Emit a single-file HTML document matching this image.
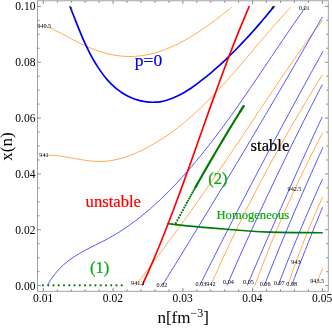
<!DOCTYPE html>
<html><head><meta charset="utf-8"><title>plot</title>
<style>html,body{margin:0;padding:0;background:#fff;}body{width:332px;height:328px;overflow:hidden;position:relative;font-family:"Liberation Serif",serif;}</style>
</head><body>
<svg width="332" height="328" viewBox="0 0 332 328" style="position:absolute;left:0;top:0;will-change:transform">
<rect x="0" y="0" width="332" height="328" fill="#fff"/>
<path d="M43.80,25.18 C44.60,25.51 47.00,26.46 48.58,27.15 C50.17,27.85 51.74,28.59 53.31,29.35 C54.89,30.11 56.45,30.91 58.02,31.72 C59.59,32.52 61.15,33.36 62.71,34.20 C64.28,35.04 65.84,35.89 67.42,36.74 C68.99,37.59 70.56,38.45 72.15,39.30 C73.74,40.14 75.33,40.99 76.93,41.81 C78.54,42.63 80.15,43.44 81.78,44.22 C83.41,45.00 85.05,45.76 86.71,46.48 C88.37,47.21 90.04,47.91 91.73,48.57 C93.41,49.23 95.11,49.86 96.81,50.45 C98.52,51.05 100.23,51.60 101.96,52.12 C103.68,52.64 105.41,53.12 107.15,53.55 C108.88,53.98 110.63,54.38 112.37,54.72 C114.12,55.07 115.87,55.37 117.62,55.62 C119.37,55.87 121.13,56.07 122.88,56.22 C124.64,56.37 126.39,56.46 128.14,56.50 C129.89,56.54 131.64,56.53 133.38,56.46 C135.13,56.39 136.87,56.26 138.61,56.08 C140.34,55.90 142.08,55.66 143.80,55.38 C145.53,55.10 147.25,54.77 148.97,54.39 C150.69,54.02 152.40,53.59 154.10,53.13 C155.81,52.66 157.51,52.15 159.20,51.60 C160.89,51.05 162.57,50.46 164.25,49.83 C165.93,49.20 167.59,48.54 169.25,47.84 C170.91,47.14 172.57,46.41 174.21,45.65 C175.85,44.88 177.48,44.09 179.11,43.27 C180.73,42.44 182.34,41.59 183.95,40.72 C185.55,39.85 187.14,38.94 188.72,38.02 C190.30,37.10 191.87,36.16 193.43,35.20 C194.99,34.24 196.54,33.26 198.07,32.26 C199.60,31.27 201.12,30.25 202.63,29.23 C204.14,28.21 205.63,27.17 207.11,26.13 C208.59,25.08 210.06,24.02 211.51,22.96 C212.96,21.90 214.39,20.84 215.81,19.77 C217.23,18.70 218.64,17.62 220.03,16.55 C221.42,15.47 222.79,14.40 224.14,13.33 C225.50,12.26 226.84,11.19 228.16,10.13 C229.48,9.07 231.42,7.49 232.07,6.96" fill="none" stroke="#ffa64d" stroke-width="0.95"/>
<path d="M43.57,155.17 C44.86,155.17 48.72,155.08 51.32,155.22 C53.91,155.35 56.52,155.64 59.14,155.97 C61.75,156.29 64.38,156.74 67.02,157.18 C69.66,157.61 72.30,158.13 74.95,158.59 C77.59,159.05 80.25,159.55 82.89,159.95 C85.54,160.36 88.19,160.75 90.82,161.00 C93.46,161.26 96.09,161.46 98.71,161.48 C101.33,161.51 103.94,161.40 106.53,161.16 C109.12,160.92 111.70,160.53 114.25,160.03 C116.81,159.54 119.35,158.91 121.87,158.19 C124.39,157.48 126.88,156.64 129.36,155.73 C131.83,154.83 134.28,153.82 136.70,152.75 C139.12,151.69 141.52,150.53 143.89,149.34 C146.25,148.14 148.59,146.88 150.89,145.59 C153.20,144.29 155.47,142.95 157.71,141.57 C159.96,140.19 162.17,138.77 164.35,137.32 C166.54,135.86 168.69,134.36 170.82,132.83 C172.95,131.31 175.05,129.74 177.13,128.14 C179.21,126.54 181.26,124.91 183.29,123.25 C185.32,121.59 187.32,119.90 189.30,118.18 C191.29,116.46 193.25,114.72 195.19,112.95 C197.14,111.17 199.06,109.38 200.96,107.56 C202.87,105.74 204.75,103.89 206.62,102.03 C208.49,100.17 210.35,98.29 212.19,96.39 C214.03,94.49 215.85,92.57 217.66,90.63 C219.47,88.70 221.27,86.75 223.06,84.79 C224.84,82.83 226.62,80.85 228.38,78.87 C230.15,76.89 231.91,74.89 233.65,72.89 C235.40,70.89 237.14,68.87 238.88,66.86 C240.61,64.84 242.34,62.82 244.06,60.80 C245.79,58.78 247.50,56.75 249.22,54.72 C250.94,52.70 252.65,50.67 254.36,48.64 C256.08,46.62 257.79,44.59 259.50,42.58 C261.21,40.56 262.92,38.54 264.64,36.54 C266.35,34.53 268.07,32.53 269.79,30.54 C271.51,28.55 273.24,26.57 274.97,24.60 C276.70,22.64 278.44,20.68 280.18,18.74 C281.93,16.80 283.68,14.87 285.44,12.96 C287.20,11.05 289.87,8.23 290.75,7.29" fill="none" stroke="#ffa64d" stroke-width="0.95"/>
<path d="M135.23,285.90 C136.70,283.97 141.14,278.20 144.08,274.34 C147.01,270.49 149.93,266.64 152.84,262.79 C155.75,258.93 158.64,255.08 161.51,251.23 C164.38,247.38 167.24,243.53 170.08,239.67 C172.92,235.82 175.74,231.97 178.54,228.12 C181.34,224.27 184.12,220.41 186.89,216.56 C189.65,212.71 192.40,208.86 195.13,205.00 C197.86,201.15 200.57,197.30 203.26,193.45 C205.96,189.60 208.63,185.74 211.30,181.89 C213.96,178.04 216.60,174.19 219.24,170.33 C221.87,166.48 224.49,162.63 227.10,158.78 C229.71,154.93 232.30,151.07 234.89,147.22 C237.48,143.37 240.06,139.52 242.63,135.67 C245.21,131.81 247.77,127.96 250.34,124.11 C252.91,120.26 255.47,116.40 258.04,112.55 C260.60,108.70 263.17,104.85 265.75,101.00 C268.32,97.14 270.90,93.29 273.50,89.44 C276.09,85.59 278.69,81.73 281.31,77.88 C283.94,74.03 286.57,70.18 289.23,66.33 C291.89,62.47 294.57,58.62 297.29,54.77 C300.00,50.92 302.74,47.07 305.51,43.21 C308.29,39.36 311.10,35.51 313.96,31.66 C316.81,27.80 321.20,22.03 322.65,20.10" fill="none" stroke="#ffa64d" stroke-width="0.95"/>
<path d="M211.84,283.00 C213.25,279.84 217.41,270.37 220.27,264.05 C223.13,257.74 226.05,251.42 229.02,245.11 C231.99,238.79 235.02,232.48 238.10,226.16 C241.18,219.85 244.32,213.53 247.51,207.22 C250.70,200.90 253.94,194.59 257.24,188.27 C260.54,181.96 263.90,175.64 267.31,169.33 C270.72,163.01 274.18,156.70 277.70,150.38 C281.21,144.07 284.79,137.75 288.41,131.44 C292.04,125.12 295.72,118.81 299.46,112.49 C303.19,106.18 306.99,99.86 310.83,93.55 C314.68,87.23 320.58,77.76 322.53,74.60" fill="none" stroke="#ffa64d" stroke-width="0.95"/>
<path d="M254.91,285.30 C255.78,282.99 258.32,276.06 260.08,271.44 C261.83,266.82 263.62,262.19 265.44,257.57 C267.26,252.95 269.11,248.33 271.00,243.71 C272.89,239.09 274.81,234.47 276.76,229.85 C278.71,225.22 280.69,220.60 282.71,215.98 C284.73,211.36 286.78,206.74 288.86,202.12 C290.95,197.50 293.06,192.88 295.21,188.25 C297.36,183.63 299.54,179.01 301.76,174.39 C303.97,169.77 306.22,165.15 308.50,160.53 C310.78,155.91 313.09,151.28 315.44,146.66 C317.79,142.04 321.39,135.11 322.58,132.80" fill="none" stroke="#ffa64d" stroke-width="0.95"/>
<path d="M288.30,283.90 C288.75,282.58 290.09,278.63 291.01,276.00 C291.93,273.37 292.86,270.73 293.81,268.10 C294.75,265.47 295.71,262.83 296.68,260.20 C297.65,257.57 298.64,254.93 299.64,252.30 C300.64,249.67 301.65,247.03 302.67,244.40 C303.70,241.77 304.74,239.13 305.79,236.50 C306.84,233.87 307.91,231.23 308.99,228.60 C310.07,225.97 311.16,223.33 312.27,220.70 C313.38,218.07 314.50,215.43 315.63,212.80 C316.77,210.17 317.91,207.53 319.08,204.90 C320.24,202.27 322.01,198.32 322.60,197.00" fill="none" stroke="#ffa64d" stroke-width="0.95"/>
<path d="M316.10,284.80 C316.20,284.54 316.50,283.77 316.70,283.25 C316.90,282.74 317.10,282.22 317.30,281.71 C317.50,281.19 317.70,280.68 317.90,280.16 C318.10,279.65 318.30,279.13 318.50,278.62 C318.70,278.10 318.90,277.59 319.10,277.07 C319.30,276.56 319.50,276.04 319.70,275.53 C319.90,275.01 320.10,274.50 320.30,273.98 C320.50,273.47 320.70,272.95 320.90,272.44 C321.10,271.92 321.30,271.41 321.50,270.89 C321.70,270.38 321.90,269.86 322.10,269.35 C322.30,268.83 322.60,268.06 322.70,267.80" fill="none" stroke="#ffa64d" stroke-width="0.95"/>
<path d="M47.78,284.97 C48.34,284.02 49.94,281.07 51.14,279.22 C52.34,277.38 53.62,275.60 54.97,273.89 C56.32,272.19 57.74,270.55 59.22,268.99 C60.71,267.42 62.26,265.93 63.87,264.50 C65.47,263.07 67.15,261.72 68.86,260.42 C70.57,259.13 72.34,257.90 74.14,256.72 C75.94,255.53 77.79,254.41 79.65,253.32 C81.52,252.23 83.42,251.19 85.33,250.17 C87.24,249.15 89.18,248.17 91.11,247.19 C93.04,246.21 94.99,245.27 96.93,244.30 C98.87,243.33 100.81,242.38 102.74,241.39 C104.66,240.40 106.58,239.40 108.48,238.36 C110.37,237.31 112.25,236.24 114.11,235.14 C115.97,234.04 117.81,232.91 119.64,231.75 C121.47,230.59 123.27,229.41 125.07,228.20 C126.86,226.99 128.63,225.75 130.39,224.49 C132.15,223.24 133.89,221.95 135.62,220.65 C137.34,219.35 139.05,218.02 140.74,216.67 C142.44,215.33 144.11,213.96 145.77,212.58 C147.43,211.19 149.08,209.79 150.71,208.37 C152.34,206.95 153.95,205.51 155.55,204.05 C157.15,202.60 158.74,201.13 160.31,199.64 C161.88,198.16 163.44,196.65 164.99,195.14 C166.53,193.62 168.06,192.09 169.58,190.55 C171.10,189.01 172.61,187.45 174.10,185.89 C175.60,184.32 177.08,182.74 178.55,181.15 C180.02,179.56 181.48,177.96 182.93,176.36 C184.38,174.75 185.82,173.13 187.24,171.50 C188.67,169.88 190.09,168.24 191.50,166.60 C192.91,164.96 194.30,163.31 195.69,161.65 C197.08,159.99 198.46,158.33 199.83,156.66 C201.20,154.98 202.56,153.30 203.92,151.62 C205.27,149.93 206.62,148.24 207.95,146.54 C209.29,144.84 210.62,143.13 211.94,141.42 C213.26,139.71 214.58,137.99 215.89,136.27 C217.19,134.55 218.49,132.82 219.79,131.08 C221.08,129.35 222.37,127.61 223.65,125.87 C224.94,124.12 226.21,122.38 227.48,120.62 C228.75,118.87 230.02,117.11 231.28,115.35 C232.54,113.59 233.80,111.83 235.05,110.06 C236.30,108.29 237.54,106.52 238.79,104.74 C240.03,102.97 241.27,101.19 242.50,99.41 C243.74,97.63 244.97,95.85 246.20,94.06 C247.43,92.28 248.65,90.49 249.88,88.70 C251.10,86.91 252.32,85.12 253.54,83.32 C254.76,81.53 255.97,79.74 257.19,77.94 C258.40,76.15 259.61,74.35 260.83,72.55 C262.04,70.76 263.25,68.96 264.46,67.16 C265.67,65.36 266.88,63.56 268.09,61.77 C269.30,59.97 270.51,58.17 271.72,56.37 C272.93,54.58 274.14,52.78 275.35,50.98 C276.56,49.19 277.77,47.39 278.98,45.60 C280.20,43.81 281.41,42.02 282.63,40.23 C283.84,38.44 285.06,36.65 286.28,34.86 C287.50,33.08 288.72,31.29 289.95,29.51 C291.17,27.73 292.40,25.95 293.63,24.18 C294.86,22.40 296.10,20.63 297.34,18.86 C298.57,17.09 299.82,15.33 301.06,13.56 C302.31,11.80 304.19,9.17 304.81,8.29" fill="none" stroke="#4d4dff" stroke-width="0.95"/>
<path d="M162.38,285.30 C164.90,281.23 172.46,269.03 177.47,260.89 C182.48,252.75 187.48,244.62 192.45,236.48 C197.43,228.35 202.39,220.21 207.33,212.07 C212.27,203.94 217.19,195.80 222.09,187.66 C227.00,179.53 231.88,171.39 236.75,163.25 C241.62,155.12 246.47,146.98 251.30,138.85 C256.13,130.71 260.95,122.57 265.74,114.44 C270.54,106.30 275.32,98.16 280.08,90.03 C284.84,81.89 289.58,73.75 294.30,65.62 C299.03,57.48 303.73,49.35 308.42,41.21 C313.11,33.07 320.09,20.87 322.43,16.80" fill="none" stroke="#4d4dff" stroke-width="0.95"/>
<path d="M200.22,284.50 C201.99,280.97 207.27,270.36 210.82,263.29 C214.37,256.22 217.93,249.15 221.52,242.08 C225.11,235.01 228.72,227.94 232.35,220.87 C235.97,213.80 239.62,206.73 243.28,199.66 C246.95,192.59 250.63,185.52 254.34,178.45 C258.04,171.38 261.76,164.32 265.50,157.25 C269.25,150.18 273.01,143.11 276.79,136.04 C280.57,128.97 284.37,121.90 288.19,114.83 C292.01,107.76 295.84,100.69 299.70,93.62 C303.56,86.55 307.43,79.48 311.33,72.41 C315.23,65.34 321.12,54.73 323.07,51.20" fill="none" stroke="#4d4dff" stroke-width="0.95"/>
<path d="M227.05,285.30 C228.38,282.26 232.32,273.14 234.99,267.06 C237.66,260.98 240.35,254.91 243.07,248.83 C245.79,242.75 248.53,236.67 251.29,230.59 C254.06,224.51 256.85,218.43 259.66,212.35 C262.47,206.28 265.31,200.20 268.17,194.12 C271.03,188.04 273.91,181.96 276.82,175.88 C279.73,169.80 282.66,163.72 285.62,157.65 C288.57,151.57 291.55,145.49 294.55,139.41 C297.56,133.33 300.59,127.25 303.64,121.17 C306.69,115.09 309.76,109.02 312.86,102.94 C315.96,96.86 320.67,87.74 322.23,84.70" fill="none" stroke="#4d4dff" stroke-width="0.95"/>
<path d="M247.26,285.30 C248.36,282.75 251.64,275.08 253.84,269.97 C256.04,264.86 258.25,259.75 260.46,254.65 C262.68,249.54 264.90,244.43 267.13,239.32 C269.37,234.21 271.61,229.10 273.86,223.99 C276.10,218.88 278.36,213.77 280.63,208.66 C282.89,203.55 285.16,198.45 287.44,193.34 C289.73,188.23 292.01,183.12 294.31,178.01 C296.61,172.90 298.91,167.79 301.23,162.68 C303.54,157.57 305.86,152.46 308.19,147.35 C310.52,142.25 312.86,137.14 315.21,132.03 C317.55,126.92 321.09,119.25 322.27,116.70" fill="none" stroke="#4d4dff" stroke-width="0.95"/>
<path d="M264.24,285.70 C265.07,283.60 267.54,277.32 269.21,273.13 C270.87,268.94 272.55,264.75 274.25,260.55 C275.94,256.36 277.64,252.17 279.36,247.98 C281.08,243.79 282.81,239.60 284.55,235.41 C286.29,231.22 288.05,227.03 289.81,222.84 C291.58,218.65 293.36,214.45 295.15,210.26 C296.94,206.07 298.75,201.88 300.56,197.69 C302.38,193.50 304.21,189.31 306.05,185.12 C307.89,180.93 309.75,176.74 311.61,172.55 C313.48,168.35 315.36,164.16 317.25,159.97 C319.14,155.78 322.01,149.50 322.96,147.40" fill="none" stroke="#4d4dff" stroke-width="0.95"/>
<path d="M278.20,285.30 C278.82,283.69 280.68,278.85 281.93,275.63 C283.18,272.40 284.45,269.18 285.72,265.95 C287.00,262.73 288.28,259.51 289.58,256.28 C290.87,253.06 292.18,249.83 293.49,246.61 C294.81,243.38 296.13,240.16 297.47,236.94 C298.80,233.71 300.15,230.49 301.50,227.26 C302.86,224.04 304.22,220.82 305.60,217.59 C306.98,214.37 308.36,211.14 309.76,207.92 C311.15,204.69 312.56,201.47 313.98,198.25 C315.39,195.02 316.82,191.80 318.26,188.57 C319.70,185.35 321.88,180.51 322.60,178.90" fill="none" stroke="#4d4dff" stroke-width="0.95"/>
<path d="M291.90,284.80 C292.35,283.62 293.68,280.10 294.58,277.75 C295.48,275.39 296.38,273.04 297.28,270.69 C298.19,268.34 299.10,265.99 300.01,263.64 C300.92,261.28 301.84,258.93 302.76,256.58 C303.68,254.23 304.60,251.88 305.53,249.53 C306.45,247.18 307.38,244.82 308.32,242.47 C309.25,240.12 310.19,237.77 311.13,235.42 C312.07,233.07 313.02,230.72 313.96,228.36 C314.91,226.01 315.86,223.66 316.82,221.31 C317.78,218.96 318.74,216.61 319.70,214.25 C320.66,211.90 322.12,208.38 322.60,207.20" fill="none" stroke="#4d4dff" stroke-width="0.95"/>
<path d="M70.12,6.91 C70.48,7.84 71.59,10.62 72.33,12.47 C73.06,14.32 73.79,16.18 74.52,18.03 C75.25,19.88 75.97,21.73 76.71,23.58 C77.44,25.43 78.18,27.27 78.93,29.11 C79.68,30.95 80.43,32.78 81.20,34.61 C81.97,36.44 82.75,38.26 83.55,40.07 C84.35,41.88 85.17,43.69 86.01,45.48 C86.85,47.27 87.71,49.06 88.60,50.83 C89.49,52.60 90.40,54.35 91.34,56.10 C92.28,57.84 93.26,59.57 94.26,61.29 C95.27,63.00 96.31,64.70 97.40,66.38 C98.48,68.06 99.60,69.73 100.76,71.37 C101.92,73.01 103.13,74.64 104.38,76.23 C105.63,77.81 106.93,79.38 108.28,80.88 C109.63,82.38 111.03,83.85 112.49,85.23 C113.94,86.62 115.45,87.96 117.01,89.21 C118.58,90.46 120.21,91.64 121.88,92.72 C123.55,93.81 125.28,94.82 127.04,95.73 C128.80,96.65 130.61,97.48 132.44,98.21 C134.28,98.94 136.15,99.58 138.03,100.12 C139.92,100.66 141.84,101.10 143.76,101.44 C145.68,101.77 147.62,102.01 149.55,102.13 C151.49,102.26 153.44,102.28 155.37,102.18 C157.31,102.08 159.24,101.87 161.16,101.54 C163.07,101.21 164.97,100.76 166.86,100.21 C168.74,99.67 170.61,99.01 172.46,98.28 C174.32,97.54 176.15,96.71 177.96,95.82 C179.77,94.93 181.57,93.95 183.34,92.93 C185.11,91.91 186.86,90.82 188.59,89.71 C190.32,88.59 192.02,87.42 193.70,86.24 C195.38,85.06 197.03,83.83 198.66,82.61 C200.28,81.39 201.88,80.16 203.46,78.92 C205.03,77.68 206.58,76.43 208.11,75.17 C209.64,73.91 211.15,72.64 212.64,71.36 C214.14,70.08 215.61,68.79 217.07,67.49 C218.54,66.19 219.98,64.88 221.43,63.55 C222.87,62.22 224.30,60.88 225.72,59.53 C227.15,58.17 228.57,56.80 229.98,55.42 C231.40,54.04 232.80,52.64 234.20,51.23 C235.61,49.83 237.00,48.41 238.39,46.98 C239.78,45.55 241.16,44.10 242.53,42.65 C243.90,41.20 245.27,39.74 246.63,38.27 C247.98,36.80 249.34,35.33 250.68,33.84 C252.02,32.36 253.35,30.86 254.68,29.37 C256.01,27.87 257.32,26.36 258.63,24.85 C259.94,23.34 261.24,21.83 262.53,20.31 C263.82,18.79 265.10,17.27 266.37,15.74 C267.65,14.22 268.91,12.69 270.16,11.16 C271.41,9.63 273.27,7.33 273.89,6.56" fill="none" stroke="#0000f0" stroke-width="1.7" stroke-linecap="round"/>
<ellipse cx="71.2" cy="8.6" rx="1.6" ry="1.0" fill="#3a3a5a" transform="rotate(67 71.2 8.6)"/>
<ellipse cx="272.8" cy="7.7" rx="1.8" ry="1.1" fill="#1a1a30" transform="rotate(-49 272.8 7.7)"/>
<path d="M167.40,223.50 C171.17,223.95 182.90,225.47 190.00,226.20 C197.10,226.93 200.17,227.10 210.00,227.90 C219.83,228.70 239.00,230.30 249.00,231.00 C259.00,231.70 261.50,231.83 270.00,232.10 C278.50,232.37 291.21,232.49 300.00,232.60 C308.79,232.71 318.96,232.72 322.75,232.75" fill="none" stroke="#007a00" stroke-width="1.7"/>
<path d="M195.07,188.00 C196.11,186.15 199.22,180.62 201.31,176.93 C203.41,173.24 205.53,169.55 207.66,165.86 C209.79,162.17 211.94,158.48 214.11,154.79 C216.27,151.10 218.45,147.40 220.65,143.71 C222.85,140.02 225.06,136.33 227.29,132.64 C229.52,128.95 231.77,125.26 234.03,121.57 C236.29,117.88 239.73,112.35 240.87,110.50" fill="none" stroke="#007a00" stroke-width="2.1"/>
<circle cx="175.90" cy="223.10" r="1.08" fill="#007a00"/>
<circle cx="177.37" cy="220.35" r="1.08" fill="#007a00"/>
<circle cx="178.80" cy="217.67" r="1.08" fill="#007a00"/>
<circle cx="180.21" cy="215.05" r="1.08" fill="#007a00"/>
<circle cx="181.58" cy="212.50" r="1.08" fill="#007a00"/>
<circle cx="182.93" cy="210.01" r="1.08" fill="#007a00"/>
<circle cx="184.25" cy="207.59" r="1.08" fill="#007a00"/>
<circle cx="185.53" cy="205.23" r="1.08" fill="#007a00"/>
<circle cx="186.78" cy="202.95" r="1.08" fill="#007a00"/>
<circle cx="187.99" cy="200.75" r="1.08" fill="#007a00"/>
<circle cx="189.17" cy="198.61" r="1.08" fill="#007a00"/>
<circle cx="190.31" cy="196.55" r="1.08" fill="#007a00"/>
<circle cx="191.42" cy="194.55" r="1.08" fill="#007a00"/>
<circle cx="192.49" cy="192.61" r="1.08" fill="#007a00"/>
<circle cx="193.52" cy="190.76" r="1.08" fill="#007a00"/>
<circle cx="194.52" cy="188.98" r="1.08" fill="#007a00"/>
<circle cx="195.47" cy="187.27" r="1.08" fill="#007a00"/>
<circle cx="196.40" cy="185.63" r="1.08" fill="#007a00"/>
<circle cx="197.28" cy="184.05" r="1.08" fill="#007a00"/>
<circle cx="243.61" cy="106.10" r="1.2" fill="#007a00"/>
<circle cx="242.89" cy="107.25" r="1.2" fill="#007a00"/>
<circle cx="242.17" cy="108.40" r="1.2" fill="#007a00"/>
<circle cx="241.46" cy="109.55" r="1.2" fill="#007a00"/>
<circle cx="240.74" cy="110.70" r="1.2" fill="#007a00"/>
<circle cx="240.03" cy="111.85" r="1.2" fill="#007a00"/>
<circle cx="43.00" cy="285.35" r="1.1" fill="#007a00"/>
<circle cx="48.25" cy="285.35" r="1.1" fill="#007a00"/>
<circle cx="53.49" cy="285.35" r="1.1" fill="#007a00"/>
<circle cx="58.74" cy="285.35" r="1.1" fill="#007a00"/>
<circle cx="63.99" cy="285.35" r="1.1" fill="#007a00"/>
<circle cx="69.23" cy="285.35" r="1.1" fill="#007a00"/>
<circle cx="74.48" cy="285.35" r="1.1" fill="#007a00"/>
<circle cx="79.73" cy="285.35" r="1.1" fill="#007a00"/>
<circle cx="84.98" cy="285.35" r="1.1" fill="#007a00"/>
<circle cx="90.22" cy="285.35" r="1.1" fill="#007a00"/>
<circle cx="95.47" cy="285.35" r="1.1" fill="#007a00"/>
<circle cx="100.72" cy="285.35" r="1.1" fill="#007a00"/>
<circle cx="105.96" cy="285.35" r="1.1" fill="#007a00"/>
<circle cx="111.21" cy="285.35" r="1.1" fill="#007a00"/>
<circle cx="116.46" cy="285.35" r="1.1" fill="#007a00"/>
<circle cx="121.70" cy="285.35" r="1.1" fill="#007a00"/>
<path d="M142.22,285.50 C144.08,281.27 149.79,268.56 153.39,260.09 C156.99,251.62 160.44,243.15 163.81,234.68 C167.19,226.21 170.44,217.74 173.65,209.27 C176.85,200.80 179.96,192.33 183.04,183.86 C186.13,175.39 189.14,166.92 192.16,158.45 C195.17,149.98 198.14,141.52 201.14,133.05 C204.13,124.58 207.11,116.11 210.14,107.64 C213.17,99.17 216.20,90.70 219.31,82.23 C222.42,73.76 225.56,65.29 228.81,56.82 C232.05,48.35 235.35,39.88 238.78,31.41 C242.21,22.94 247.62,10.23 249.38,6.00" fill="none" stroke="#ff0000" stroke-width="1.65"/>
<rect x="37.5" y="0.8" width="290.8" height="290.5" fill="none" stroke="#999999" stroke-width="0.9"/>
<path d="M37.5,285.60h3.4 M328.3,285.60h-3.4 M37.5,271.64h2.0 M328.3,271.64h-2.0 M37.5,257.68h2.0 M328.3,257.68h-2.0 M37.5,243.72h2.0 M328.3,243.72h-2.0 M37.5,229.76h3.4 M328.3,229.76h-3.4 M37.5,215.80h2.0 M328.3,215.80h-2.0 M37.5,201.84h2.0 M328.3,201.84h-2.0 M37.5,187.88h2.0 M328.3,187.88h-2.0 M37.5,173.92h3.4 M328.3,173.92h-3.4 M37.5,159.96h2.0 M328.3,159.96h-2.0 M37.5,146.00h2.0 M328.3,146.00h-2.0 M37.5,132.04h2.0 M328.3,132.04h-2.0 M37.5,118.08h3.4 M328.3,118.08h-3.4 M37.5,104.12h2.0 M328.3,104.12h-2.0 M37.5,90.16h2.0 M328.3,90.16h-2.0 M37.5,76.20h2.0 M328.3,76.20h-2.0 M37.5,62.24h3.4 M328.3,62.24h-3.4 M37.5,48.28h2.0 M328.3,48.28h-2.0 M37.5,34.32h2.0 M328.3,34.32h-2.0 M37.5,20.36h2.0 M328.3,20.36h-2.0 M37.5,6.40h3.4 M328.3,6.40h-3.4 M43.35,291.3v-3.4 M43.35,0.8v3.4 M57.30,291.3v-2.0 M57.30,0.8v2.0 M71.25,291.3v-2.0 M71.25,0.8v2.0 M85.20,291.3v-2.0 M85.20,0.8v2.0 M99.15,291.3v-2.0 M99.15,0.8v2.0 M113.10,291.3v-3.4 M113.10,0.8v3.4 M127.05,291.3v-2.0 M127.05,0.8v2.0 M141.00,291.3v-2.0 M141.00,0.8v2.0 M154.95,291.3v-2.0 M154.95,0.8v2.0 M168.90,291.3v-2.0 M168.90,0.8v2.0 M182.85,291.3v-3.4 M182.85,0.8v3.4 M196.80,291.3v-2.0 M196.80,0.8v2.0 M210.75,291.3v-2.0 M210.75,0.8v2.0 M224.70,291.3v-2.0 M224.70,0.8v2.0 M238.65,291.3v-2.0 M238.65,0.8v2.0 M252.60,291.3v-3.4 M252.60,0.8v3.4 M266.55,291.3v-2.0 M266.55,0.8v2.0 M280.50,291.3v-2.0 M280.50,0.8v2.0 M294.45,291.3v-2.0 M294.45,0.8v2.0 M308.40,291.3v-2.0 M308.40,0.8v2.0 M322.35,291.3v-3.4 M322.35,0.8v3.4" fill="none" stroke="#707070" stroke-width="0.8"/>
<text transform="translate(35.40,289.60) scale(0.96,1)" font-family="Liberation Serif, serif" font-size="12" text-anchor="end" fill="#000" stroke="#000" stroke-width="0" >0.00</text>
<text transform="translate(35.40,233.76) scale(0.96,1)" font-family="Liberation Serif, serif" font-size="12" text-anchor="end" fill="#000" stroke="#000" stroke-width="0" >0.02</text>
<text transform="translate(35.40,177.92) scale(0.96,1)" font-family="Liberation Serif, serif" font-size="12" text-anchor="end" fill="#000" stroke="#000" stroke-width="0" >0.04</text>
<text transform="translate(35.40,122.08) scale(0.96,1)" font-family="Liberation Serif, serif" font-size="12" text-anchor="end" fill="#000" stroke="#000" stroke-width="0" >0.06</text>
<text transform="translate(35.40,66.24) scale(0.96,1)" font-family="Liberation Serif, serif" font-size="12" text-anchor="end" fill="#000" stroke="#000" stroke-width="0" >0.08</text>
<text transform="translate(35.40,10.40) scale(0.96,1)" font-family="Liberation Serif, serif" font-size="12" text-anchor="end" fill="#000" stroke="#000" stroke-width="0" >0.10</text>
<text transform="translate(43.15,302.00) scale(0.96,1)" font-family="Liberation Serif, serif" font-size="12" text-anchor="middle" fill="#000" stroke="#000" stroke-width="0" >0.01</text>
<text transform="translate(112.90,302.00) scale(0.96,1)" font-family="Liberation Serif, serif" font-size="12" text-anchor="middle" fill="#000" stroke="#000" stroke-width="0" >0.02</text>
<text transform="translate(182.65,302.00) scale(0.96,1)" font-family="Liberation Serif, serif" font-size="12" text-anchor="middle" fill="#000" stroke="#000" stroke-width="0" >0.03</text>
<text transform="translate(252.40,302.00) scale(0.96,1)" font-family="Liberation Serif, serif" font-size="12" text-anchor="middle" fill="#000" stroke="#000" stroke-width="0" >0.04</text>
<text transform="translate(322.15,302.00) scale(0.96,1)" font-family="Liberation Serif, serif" font-size="12" text-anchor="middle" fill="#000" stroke="#000" stroke-width="0" >0.05</text>
<text transform="translate(12.3,146.6) rotate(-90)" font-family="Liberation Serif, serif" font-size="17" text-anchor="middle" fill="#000">x(n)</text>
<text x="157.4" y="323.3" font-family="Liberation Serif, serif" font-size="17" fill="#000">n[fm<tspan font-size="12" dy="-6.5">−3</tspan><tspan dy="6.5">]</tspan></text>
<text transform="translate(134.80,66.30) scale(1.0,1)" font-family="Liberation Serif, serif" font-size="17.5" text-anchor="start" fill="#0000f0" stroke="#0000f0" stroke-width="0.22" >p=0</text>
<text transform="translate(250.60,150.80) scale(1.0,1)" font-family="Liberation Serif, serif" font-size="16.6" text-anchor="start" fill="#000" stroke="#000" stroke-width="0.22" >stable</text>
<text transform="translate(85.60,206.50) scale(1.0,1)" font-family="Liberation Serif, serif" font-size="16.6" text-anchor="start" fill="#ff0000" stroke="#ff0000" stroke-width="0.22" >unstable</text>
<text transform="translate(89.90,273.10) scale(1.0,1)" font-family="Liberation Serif, serif" font-size="16.6" text-anchor="start" fill="#10a810" stroke="#10a810" stroke-width="0.22" >(1)</text>
<text transform="translate(208.30,183.60) scale(1.0,1)" font-family="Liberation Serif, serif" font-size="16.6" text-anchor="start" fill="#10a810" stroke="#10a810" stroke-width="0.22" >(2)</text>
<text transform="translate(216.50,218.70) scale(1.0,1)" font-family="Liberation Serif, serif" font-size="12.6" text-anchor="start" fill="#10a810" stroke="#10a810" stroke-width="0.22" >Homogeneous</text>
<text x="44.2" y="27.75" font-family="Liberation Serif, serif" font-size="6.2" text-anchor="middle" fill="#000">940.5</text>
<text x="44.0" y="157.05" font-family="Liberation Serif, serif" font-size="6.2" text-anchor="middle" fill="#000">941</text>
<text x="138.0" y="284.65" font-family="Liberation Serif, serif" font-size="6.2" text-anchor="middle" fill="#000">941.1</text>
<text x="304.3" y="9.75" font-family="Liberation Serif, serif" font-size="6.2" text-anchor="middle" fill="#000">0.01</text>
<text x="162" y="287.15" font-family="Liberation Serif, serif" font-size="6.2" text-anchor="middle" fill="#000">0.02</text>
<text x="205.6" y="286.35" font-family="Liberation Serif, serif" font-size="6.2" text-anchor="middle" fill="#000">0.03942</text>
<text x="228.4" y="283.65" font-family="Liberation Serif, serif" font-size="6.2" text-anchor="middle" fill="#000">0.04</text>
<text x="248.4" y="283.75" font-family="Liberation Serif, serif" font-size="6.2" text-anchor="middle" fill="#000">0.05</text>
<text x="265.1" y="285.95" font-family="Liberation Serif, serif" font-size="6.2" text-anchor="middle" fill="#000">0.06</text>
<text x="279.3" y="285.05" font-family="Liberation Serif, serif" font-size="6.2" text-anchor="middle" fill="#000">0.07</text>
<text x="291.7" y="286.45" font-family="Liberation Serif, serif" font-size="6.2" text-anchor="middle" fill="#000">0.08</text>
<text x="294.5" y="190.75" font-family="Liberation Serif, serif" font-size="6.2" text-anchor="middle" fill="#000">942.5</text>
<text x="295.9" y="263.95" font-family="Liberation Serif, serif" font-size="6.2" text-anchor="middle" fill="#000">943</text>
<text x="317.2" y="282.65" font-family="Liberation Serif, serif" font-size="6.2" text-anchor="middle" fill="#000">943.5</text>
</svg>
</body></html>
